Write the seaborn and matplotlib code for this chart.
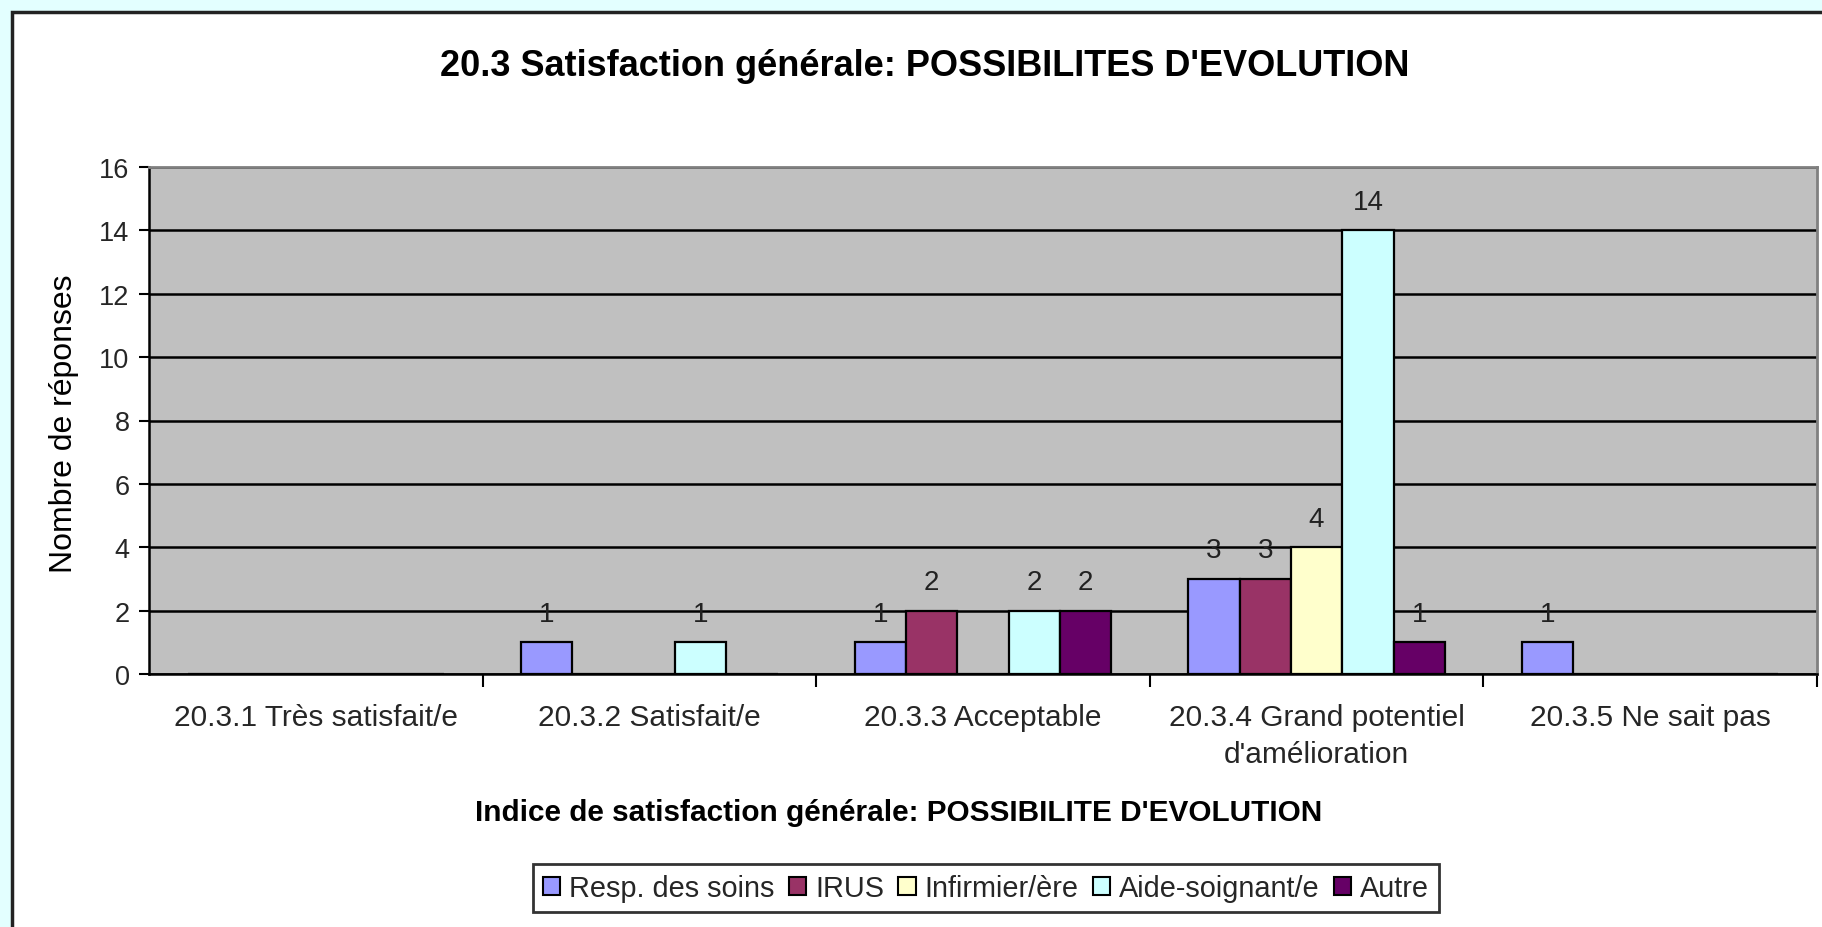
import matplotlib
matplotlib.use("Agg")
import matplotlib.pyplot as plt
from matplotlib.patches import Rectangle, Patch
from matplotlib.ticker import FixedLocator
import numpy as np
import pandas as pd
import seaborn as sns

categories = ["20.3.1 Très satisfait/e", "20.3.2 Satisfait/e", "20.3.3 Acceptable",
              "20.3.4 Grand potentiel\nd'amélioration", "20.3.5 Ne sait pas"]
groups = ["Resp. des soins", "IRUS", "Infirmier/ère", "Aide-soignant/e", "Autre"]
resp = [0, 1, 1, 3, 1]
irus = [0, 0, 2, 3, 0]
infirm = [0, 0, 0, 4, 0]
aide = [0, 1, 2, 14, 0]
autre = [0, 0, 2, 1, 0]
colors = ["#9999FF", "#993366", "#FFFFCC", "#CCFFFF", "#660066"]
yticks = [0, 2, 4, 6, 8, 10, 12, 14, 16]

series = [resp, irus, infirm, aide, autre]
rows = []
for g, vals in zip(groups, series):
    for c, v in zip(categories, vals):
        rows.append({"cat": c, "grp": g, "val": v})
df = pd.DataFrame(rows)

sns.set_theme(style="white")
plt.rcParams["font.family"] = ["Liberation Sans", "DejaVu Sans"]

W, H = 1822, 928
fig = plt.figure(figsize=(W / 100, H / 100), dpi=100)
fig.patch.set_facecolor("#E3FFFF")
bg = Rectangle((12 / W, -0.1), 1.2, 1 - 13 / H + 0.1, transform=fig.transFigure,
               facecolor="white", edgecolor="#222222", linewidth=2.5, zorder=-10)
fig.patches.append(bg)

ax = fig.add_axes([149 / W, 1 - 675 / H, (1817 - 149) / W, (675 - 168) / H])
ax.set_zorder(1)
ax.set_facecolor("#C0C0C0")

sns.barplot(data=df, x="cat", y="val", hue="grp", hue_order=groups, order=categories,
            palette=colors, width=0.769, edgecolor="black", linewidth=1.6,
            saturation=1, ax=ax, legend=False, errorbar=None)

ax.set_ylim(0, 16)
ax.set_xlim(-0.5, 4.5)
ax.set_yticks(yticks)
ax.yaxis.grid(True, color="black", linewidth=1.8)
ax.set_axisbelow(True)

for cont, vals in zip(ax.containers, series):
    for rect, v in zip(cont, vals):
        if v > 0:
            ax.annotate(str(v), (rect.get_x() + rect.get_width() / 2, v),
                        xytext=(0, 15.5), textcoords="offset points",
                        ha="center", va="baseline", fontsize=20, color="#222222")

ax.tick_params(axis="y", which="major", direction="out", length=7, width=1.5,
               color="black", pad=7, labelsize=19.5, left=True)
ax.tick_params(axis="x", which="major", length=0, pad=21, labelsize=21.5)
ax.xaxis.set_minor_locator(FixedLocator([0.5, 1.5, 2.5, 3.5, 4.5]))
ax.tick_params(axis="x", which="minor", direction="out", length=9, width=1.5,
               color="black", bottom=True)
for lab in ax.get_xticklabels():
    lab.set_linespacing(1.4)
    lab.set_verticalalignment("top")

for side in ["left", "bottom"]:
    ax.spines[side].set_color("black")
    ax.spines[side].set_linewidth(1.8)
for side in ["top", "right"]:
    ax.spines[side].set_color("#808080")
    ax.spines[side].set_linewidth(2)

ax.set_xlabel("")
ax.set_ylabel("")

fig.text(925 / W, 1 - 66 / H, "20.3 Satisfaction générale: POSSIBILITES D'EVOLUTION",
         ha="center", va="center", fontsize=26, fontweight="bold", color="black")
fig.text(899 / W, 1 - 813 / H, "Indice de satisfaction générale: POSSIBILITE D'EVOLUTION",
         ha="center", va="center", fontsize=21.4, fontweight="bold", color="black")
fig.text(64 / W, 1 - 424 / H, "Nombre de réponses", rotation=90,
         ha="center", va="center", fontsize=23, color="black")

handles = [Patch(facecolor=c, edgecolor="black", linewidth=1.5) for c in colors]
leg = fig.legend(handles, groups, loc="center", bbox_to_anchor=(986 / W, 1 - 889 / H),
                 ncol=5, fontsize=20.8, frameon=True, fancybox=False, handlelength=0.6,
                 handleheight=0.6, handletextpad=0.3, columnspacing=0.5,
                 borderpad=0.35, borderaxespad=0)
leg.get_frame().set_edgecolor("black")
leg.get_frame().set_linewidth(2)

fig.savefig("out.png", dpi=100, facecolor=fig.get_facecolor())
